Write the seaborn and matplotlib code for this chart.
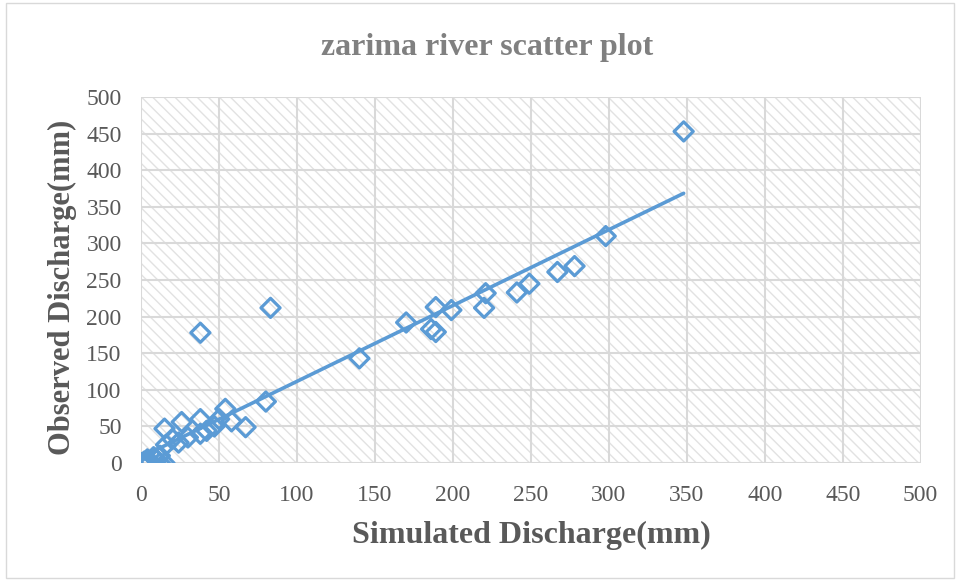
import numpy as np
import pandas as pd
import matplotlib
matplotlib.use("Agg")
import matplotlib.pyplot as plt
import matplotlib.patches as mpatches
import seaborn as sns

# values
simulated = [0, 1, 2, 3, 4, 5, 6, 8, 9, 10, 12, 12, 15, 16, 15, 20, 24, 26, 30, 38, 38,
             42, 47, 50, 54, 58, 67, 80, 38, 83, 140, 170, 186, 189, 189, 199, 220, 221,
             241, 249, 267, 278, 298, 348]
observed = [0, 0, 2, 1, 5, 3, 1, 8, 6, 4, 10, 0, 0, 25, 47, 33, 28, 56, 35, 40, 60,
            44, 50, 60, 74, 57, 49, 84, 178, 212, 143, 192, 183, 179, 213, 209, 212, 232,
            233, 245, 261, 269, 310, 453]
ticks = list(range(0, 501, 50))

df = pd.DataFrame({'Simulated': simulated, 'Observed': observed})

sns.set_style('white')
plt.rcParams['font.family'] = ['Liberation Serif', 'DejaVu Serif']
plt.rcParams['hatch.color'] = '#e2e2e2'
plt.rcParams['hatch.linewidth'] = 1.0

blue = '#5b9bd5'
grey = '#595959'

fig = plt.figure(figsize=(9.6, 5.81), dpi=100)
ax = fig.add_axes([0.147, 0.203, 0.812, 0.630])

# hatched plot area
ax.add_patch(mpatches.Rectangle((0, 0), 1, 1, transform=ax.transAxes, facecolor='white',
                                edgecolor='#e2e2e2', hatch='\\\\\\', linewidth=0, zorder=0))

sns.regplot(x='Simulated', y='Observed', data=df, scatter=False, ci=None, truncate=True,
            color=blue, line_kws={'linewidth': 2.6, 'zorder': 3}, ax=ax)
sns.scatterplot(x='Simulated', y='Observed', data=df, marker='D', s=95,
                facecolor='none', edgecolor=blue, linewidth=2.3, zorder=4, ax=ax)

ax.set_xlim(0, 500)
ax.set_ylim(0, 500)
ax.set_xticks(ticks)
ax.set_yticks(ticks)
ax.grid(True, color='#d9d9d9', linewidth=1.5, zorder=1)
ax.set_axisbelow(True)
for s in ax.spines.values():
    s.set_visible(False)
ax.tick_params(axis='y', length=0, labelsize=17, colors=grey, pad=14)
ax.tick_params(axis='x', length=0, labelsize=17, colors=grey, pad=16)

ax.set_xlabel('Simulated Discharge(mm)', fontsize=23, fontweight='bold', color=grey)
ax.set_ylabel('Observed Discharge(mm)', fontsize=22, fontweight='bold', color=grey)
ax.xaxis.set_label_coords(0.5, -0.197)
ax.yaxis.set_label_coords(-0.101, 0.48)
ax.xaxis.label.set_va('center')
ax.yaxis.label.set_va('center')
fig.text(0.507, 0.919, 'zarima river scatter plot', ha='center', va='center',
         fontsize=23, fontweight='bold', color='#808080')

# chart border
fig.patches.append(mpatches.Rectangle((0.006, 0.006), 0.988, 0.988, transform=fig.transFigure,
                                      facecolor='none', edgecolor='#d9d9d9', linewidth=1))

fig.savefig('out.png', dpi=100)
